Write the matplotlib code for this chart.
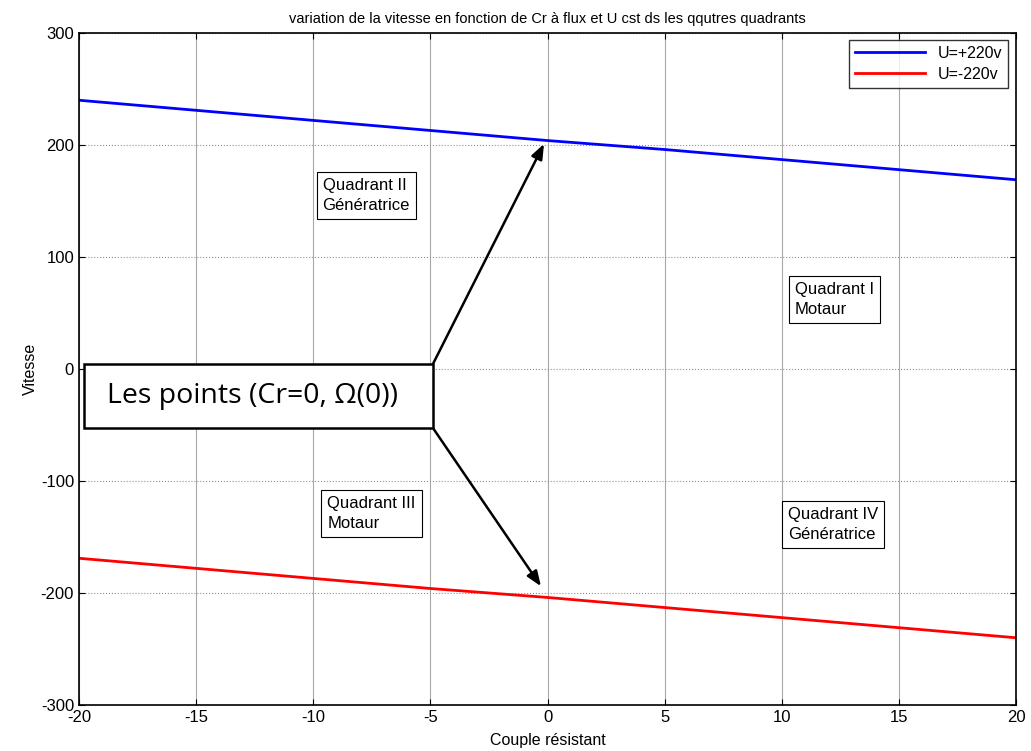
import matplotlib
matplotlib.use('Agg')
import matplotlib.pyplot as plt
from matplotlib.patches import Rectangle

plt.rcParams['font.family'] = ['Liberation Sans', 'DejaVu Sans']
plt.rcParams['font.size'] = 10
plt.rcParams['axes.unicode_minus'] = False

# Data
cr = [-20, -15, -10, -5, 0, 5, 10, 15, 20]
vitesse_pos = [240, 231, 222, 213, 204, 196, 187, 178, 169]
vitesse_neg = [-169, -178, -187, -196, -204, -213, -222, -231, -240]

xticks = [-20, -15, -10, -5, 0, 5, 10, 15, 20]
yticks = [-300, -200, -100, 0, 100, 200, 300]

quadrants = [
    (-9.6, 155, 'Quadrant II\nGénératrice'),
    (10.55, 62, 'Quadrant I\nMotaur'),
    (-9.4, -129, 'Quadrant III\nMotaur'),
    (10.25, -139, 'Quadrant IV\nGénératrice'),
]

fig = plt.figure(figsize=(10.31, 7.51), dpi=100)
ax = fig.add_axes([0.0766, 0.0613, 0.9089, 0.8947])

ax.plot(cr, vitesse_pos, color='#0000ff', linewidth=2, label='U=+220v')
ax.plot(cr, vitesse_neg, color='#ff0000', linewidth=2, label='U=-220v')

ax.set_xlim(-20, 20)
ax.set_ylim(-300, 300)
ax.set_xticks(xticks)
ax.set_yticks(yticks)
ax.tick_params(direction='in', top=True, right=True, length=4, labelsize=12)

ax.grid(True, axis='x', color='#a8a8a8', linestyle='-', linewidth=0.8)
ax.grid(True, axis='y', color='#909090', linestyle=':', linewidth=0.8)
for s in ax.spines.values():
    s.set_linewidth(1.2)

ax.set_title('variation de la vitesse en fonction de Cr à flux et U cst ds les qqutres quadrants',
             fontsize=10.5, pad=7)
ax.set_xlabel('Couple résistant', fontsize=11.5, labelpad=6)
ax.set_ylabel('Vitesse', fontsize=11.5, labelpad=2)

leg = ax.legend(loc='upper right', fontsize=11.5, frameon=True, fancybox=False,
                handlelength=4.4, borderpad=0.35, labelspacing=0.4,
                borderaxespad=0, bbox_to_anchor=(0.9915, 0.9896))
leg.get_frame().set_edgecolor('black')
leg.get_frame().set_linewidth(1.0)

for qx, qy, txt in quadrants:
    ax.text(qx, qy, txt, fontsize=12, ha='left', va='center', linespacing=1.4,
            bbox=dict(boxstyle='square,pad=0.35', facecolor='white',
                      edgecolor='black', linewidth=0.8))

# Annotation box and arrows
ax.add_patch(Rectangle((-19.79, -52.7), 14.9, 57.2, facecolor='white',
                       edgecolor='black', linewidth=1.8, zorder=4))
ax.text(-18.8, -24, 'Les points (Cr=0, Ω(0))', fontsize=20.5,
        family=['Open Sans', 'DejaVu Sans'], ha='left', va='center', zorder=5)
ax.annotate('', xy=(-0.15, 201), xytext=(-4.89, 4.5),
            arrowprops=dict(arrowstyle='-|>,head_length=0.9,head_width=0.35',
                            color='black', linewidth=1.8, shrinkA=0, shrinkB=0))
ax.annotate('', xy=(-0.28, -194), xytext=(-4.89, -52.7),
            arrowprops=dict(arrowstyle='-|>,head_length=0.9,head_width=0.35',
                            color='black', linewidth=1.8, shrinkA=0, shrinkB=0))

fig.savefig('out.png', dpi=100)
